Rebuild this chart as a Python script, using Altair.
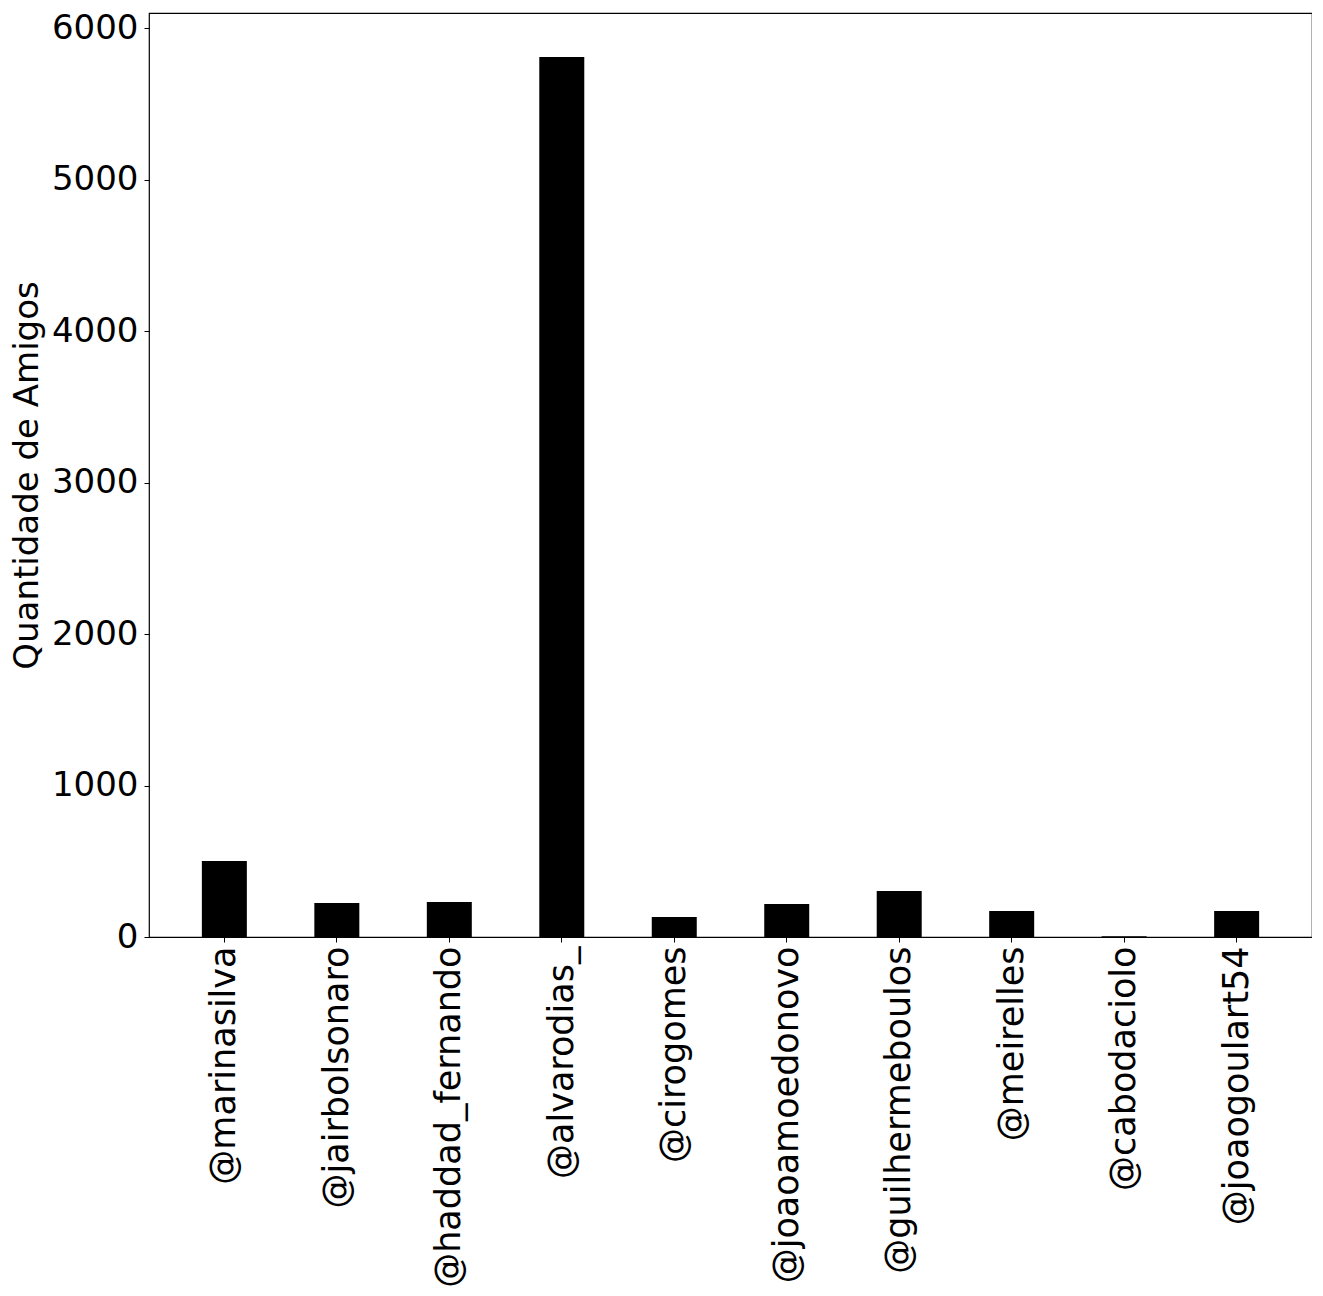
import altair as alt
import pandas as pd

users = ["@marinasilva", "@jairbolsonaro", "@haddad_fernando", "@alvarodias_",
         "@cirogomes", "@joaoamoedonovo", "@guilhermeboulos", "@meirelles",
         "@cabodaciolo", "@joaogoulart54"]
amigos = [502, 224, 231, 5810, 132, 218, 304, 172, 5, 172]

df = pd.DataFrame({"user": users, "amigos": amigos})

FONT = "DejaVu Sans"

chart = alt.Chart(df).mark_bar(color="black").encode(
    x=alt.X("user:N", sort=users, title=None,
            scale=alt.Scale(paddingInner=0.6, paddingOuter=0.47),
            axis=alt.Axis(labelAngle=-90, labelAlign="right", labelBaseline="middle",
                          labelFontSize=35, labelFont=FONT, labelColor="black",
                          tickColor="black", tickSize=5, domain=False, labelPadding=4,
                          labelLimit=0)),
    y=alt.Y("amigos:Q", title="Quantidade de Amigos",
            scale=alt.Scale(domain=[0, 6100], nice=False),
            axis=alt.Axis(values=[0, 1000, 2000, 3000, 4000, 5000, 6000], format="d",
                          labelFontSize=34, labelFont=FONT, labelColor="black",
                          titleFontSize=34, titleFont=FONT, titleFontWeight="normal",
                          titleColor="black", tickColor="black", tickSize=5,
                          domain=False, grid=False, labelPadding=6, titlePadding=7)),
).properties(
    width=1163, height=924, padding={"left": 2, "top": 3, "right": 0, "bottom": 0}
).configure_view(
    stroke="black", strokeWidth=1.2
)

chart.save("out.html", embed_options={"renderer": "svg", "actions": False})
